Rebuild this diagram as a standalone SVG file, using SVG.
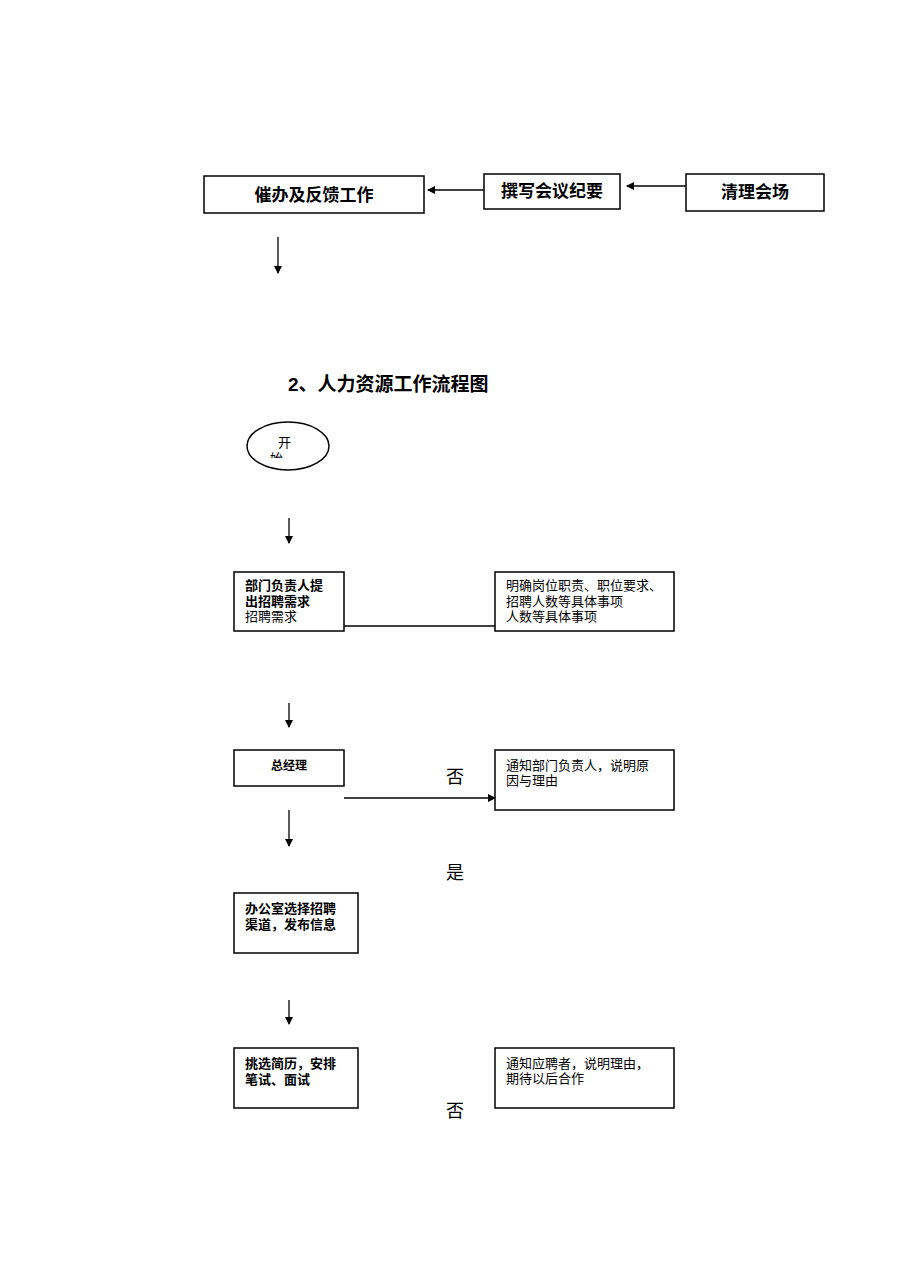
<svg xmlns="http://www.w3.org/2000/svg" width="909" height="1286" viewBox="0 0 909 1286">
<style>
.b{fill:#fff;stroke:#000;stroke-width:1.5}
.t{font-family:"Liberation Sans","Noto Sans CJK SC",sans-serif;fill:#000}
.tb{font-family:"Liberation Sans","Noto Sans CJK SC",sans-serif;font-weight:bold;fill:#000}
.s{font-family:"Liberation Serif","Noto Sans CJK SC",serif;fill:#000}
.c{stroke:#000;stroke-width:1.3;fill:none}
</style>
<defs>
<marker id="a" markerWidth="8" markerHeight="8" refX="7" refY="4" orient="auto" markerUnits="userSpaceOnUse"><path d="M0,0L8,4L0,8z" fill="#000"/></marker>
<clipPath id="cp"><rect x="247" y="420" width="84" height="38"/></clipPath>
</defs>
<rect width="909" height="1286" fill="#fff"/>
<g id="connectors">
<line class="c" x1="484" y1="190" x2="428" y2="190" marker-end="url(#a)"/>
<line class="c" x1="686" y1="186" x2="627" y2="186" marker-end="url(#a)"/>
<line class="c" x1="278" y1="237" x2="278" y2="273" marker-end="url(#a)"/>
<line class="c" x1="289" y1="518" x2="289" y2="543" marker-end="url(#a)"/>
<line class="c" x1="344" y1="626" x2="495" y2="626"/>
<line class="c" x1="289" y1="703" x2="289" y2="727" marker-end="url(#a)"/>
<line class="c" x1="344" y1="798" x2="495" y2="798" marker-end="url(#a)"/>
<line class="c" x1="289" y1="810" x2="289" y2="846" marker-end="url(#a)"/>
<line class="c" x1="289" y1="1000" x2="289" y2="1024" marker-end="url(#a)"/>
</g>
<g id="n1"><rect class="b" x="204" y="176" width="220" height="37"/><text class="tb" x="314" y="201" font-size="17" text-anchor="middle">催办及反馈工作</text></g>
<g id="n2"><rect class="b" x="484" y="174" width="136" height="35"/><text class="tb" x="552" y="197" font-size="17" text-anchor="middle">撰写会议纪要</text></g>
<g id="n3"><rect class="b" x="686" y="174" width="138" height="37"/><text class="tb" x="755" y="198" font-size="17" text-anchor="middle">清理会场</text></g>
<text class="tb" x="288" y="391" font-size="19">2、人力资源工作流程图</text>
<g id="start"><ellipse class="b" cx="288" cy="446" rx="41" ry="24"/><g clip-path="url(#cp)"><text class="t" x="278" y="447" font-size="13">开</text><text class="t" x="270" y="463" font-size="13">始</text></g></g>
<g id="n4"><rect class="b" x="234" y="572" width="110" height="59"/><text class="tb" x="245" y="590" font-size="13">部门负责人提</text><text class="tb" x="245" y="606" font-size="13">出招聘需求</text><text class="s" x="245" y="621" font-size="13" fill="#333">招聘需求</text></g>
<g id="n5"><rect class="b" x="495" y="572" width="179" height="59"/><text class="s" x="506" y="590" font-size="13">明确岗位职责、职位要求、</text><text class="s" x="506" y="606" font-size="13">招聘人数等具体事项</text><text class="s" x="506" y="621" font-size="13">人数等具体事项</text></g>
<g id="n6"><rect class="b" x="234" y="750" width="110" height="36"/><text class="tb" x="289" y="770" font-size="12" text-anchor="middle">总经理</text></g>
<text class="s" x="455" y="783" font-size="18" text-anchor="middle">否</text>
<g id="n7"><rect class="b" x="495" y="750" width="179" height="60"/><text class="s" x="506" y="770" font-size="13">通知部门负责人，说明原</text><text class="s" x="506" y="785" font-size="13">因与理由</text></g>
<text class="s" x="455" y="879" font-size="18" text-anchor="middle">是</text>
<g id="n8"><rect class="b" x="234" y="893" width="124" height="60"/><text class="tb" x="245" y="913" font-size="13">办公室选择招聘</text><text class="tb" x="245" y="929" font-size="13">渠道，发布信息</text></g>
<g id="n9"><rect class="b" x="234" y="1048" width="124" height="60"/><text class="tb" x="245" y="1068" font-size="13">挑选简历，安排</text><text class="tb" x="245" y="1084" font-size="13">笔试、面试</text></g>
<g id="n10"><rect class="b" x="495" y="1048" width="179" height="60"/><text class="s" x="506" y="1068" font-size="13">通知应聘者，说明理由，</text><text class="s" x="506" y="1083" font-size="13">期待以后合作</text></g>
<text class="s" x="455" y="1117" font-size="18" text-anchor="middle">否</text>
</svg>
